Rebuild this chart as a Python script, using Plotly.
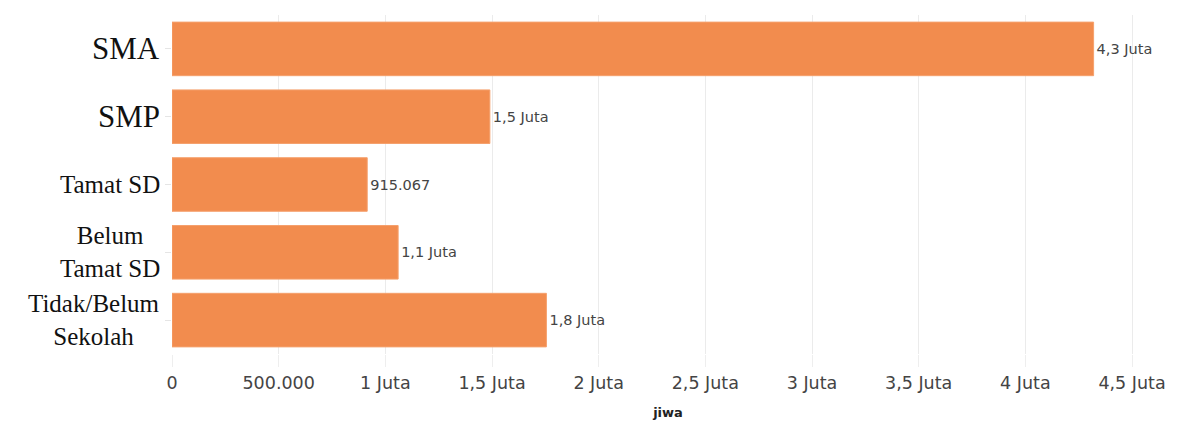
import plotly.graph_objects as go

# ---- data ----
categories = ["SMA", "SMP", "Tamat SD", "Belum<br>Tamat SD", "Tidak/Belum<br>Sekolah"]
values = [4320000, 1490000, 915067, 1060000, 1755000]
tick_vals = [0, 500000, 1000000, 1500000, 2000000, 2500000, 3000000, 3500000, 4000000, 4500000]
tick_text = ["0", "500.000", "1 Juta", "1,5 Juta", "2 Juta", "2,5 Juta", "3 Juta", "3,5 Juta", "4 Juta", "4,5 Juta"]
x_title = "jiwa"


def fmt(v):
    if v < 1_000_000:
        return f"{v:,}".replace(",", ".")
    return f"{v/1e6:.1f}".replace(".", ",") + " Juta"


bar_text = [fmt(v) for v in values]

# style for category labels (large serif)
label_sizes = {"SMA": 31, "SMP": 31}
default_label_size = 25

fig = go.Figure()
fig.add_trace(go.Bar(
    y=categories,
    x=values,
    orientation="h",
    marker=dict(color="#F28C4E", line=dict(color="#F5A06C", width=1)),
    text=bar_text,
    textposition="outside",
    textfont=dict(family="DejaVu Sans", size=14.5, color="#444444"),
    cliponaxis=False,
    width=0.79,
    hoverinfo="skip",
))

for c in categories:
    fig.add_annotation(
        x=0, xref="paper", xanchor="right", xshift=-10,
        y=c, yref="y", yanchor="middle",
        text=c, align="center", showarrow=False,
        font=dict(family="Liberation Serif", size=label_sizes.get(c, default_label_size), color="#111111"),
    )

fig.update_layout(
    width=1178, height=428,
    margin=dict(l=172, r=14, t=15, b=74),
    paper_bgcolor="white",
    plot_bgcolor="white",
    showlegend=False,
    xaxis=dict(
        range=[0, 4650000],
        tickvals=tick_vals,
        ticktext=tick_text,
        showgrid=True,
        gridcolor="#EBEBEB",
        gridwidth=1,
        zeroline=False,
        ticks="outside",
        ticklen=12,
        tickcolor="#EEEEEE",
        tickfont=dict(family="DejaVu Sans", size=17.5, color="#444444"),
        ticklabelstandoff=1,
        title=dict(text="<b>" + x_title + "</b>", font=dict(family="DejaVu Sans", size=13, color="#222222"), standoff=15),
        showline=False,
    ),
    yaxis=dict(
        categoryorder="array",
        categoryarray=categories,
        autorange="reversed",
        showticklabels=False,
        ticks="outside",
        ticklen=6,
        tickcolor="#E5E5E5",
        showgrid=False,
        zeroline=False,
        showline=False,
    ),
)

fig.write_html("out.html")
